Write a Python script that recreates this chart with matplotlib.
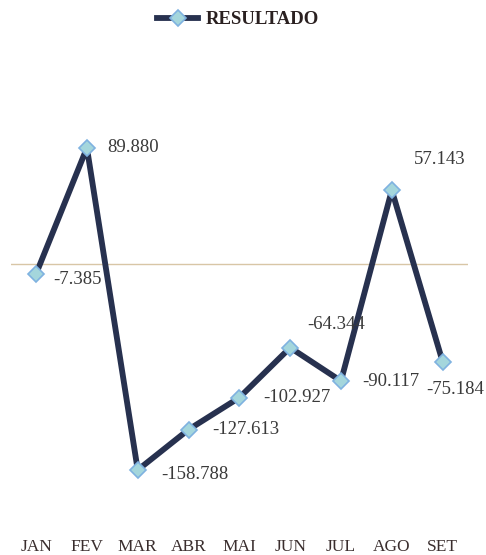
import numpy as np
import matplotlib.pyplot as plt

meses = ["JAN", "FEV", "MAR", "ABR", "MAI", "JUN", "JUL", "AGO", "SET"]
resultado = [-7.385, 89.880, -158.788, -127.613, -102.927, -64.344, -90.117, 57.143, -75.184]
rotulos = ["-7.385", "89.880", "-158.788", "-127.613", "-102.927", "-64.344", "-90.117", "57.143", "-75.184"]

# label offsets in points (dx, dy)
offsets = [(12, -4), (15, 0), (17, -3), (17, 0), (17, 0), (12, 17), (15, 0), (16, 22), (-12, -20)]

fig = plt.figure(figsize=(4.86, 5.55), dpi=100)
ax = fig.add_axes([0.022, 0.057, 0.941, 0.817])

x = np.arange(len(meses))
ax.axhline(0, color="#d8c6a6", lw=1.0, zorder=1)
l0, = ax.plot(x, resultado, color="#27314f", lw=4.2, marker="D", markersize=8.5,
              markerfacecolor="#a4d6dc", markeredgecolor="#7fb2e0", markeredgewidth=1.2,
              solid_joinstyle="round", zorder=3)

for i, (v, t) in enumerate(zip(resultado, rotulos)):
    ax.annotate(t, (x[i], v), xytext=offsets[i], textcoords="offset points",
                ha="left", va="center", fontsize=13.5, color="#3a3a3a",
                family="Liberation Serif")

ax.set_xlim(-0.5, len(meses) - 0.5)
ax.set_ylim(-200, 150)
ax.set_xticks(x)
ax.set_xticklabels(meses, family="Liberation Serif", fontsize=12.5, color="#3a2e2e")
ax.tick_params(axis="x", length=0, pad=11)
ax.set_yticks([])
for s in ax.spines.values():
    s.set_visible(False)

fig.legend([l0], ["RESULTADO"], loc="upper center", bbox_to_anchor=(0.49, 1.01),
           frameon=False, handlelength=2.2, handletextpad=0.4,
           prop={"family": "Liberation Serif", "weight": "bold", "size": 13.5},
           labelcolor="#2a2020")

plt.savefig("out.png", dpi=100)
